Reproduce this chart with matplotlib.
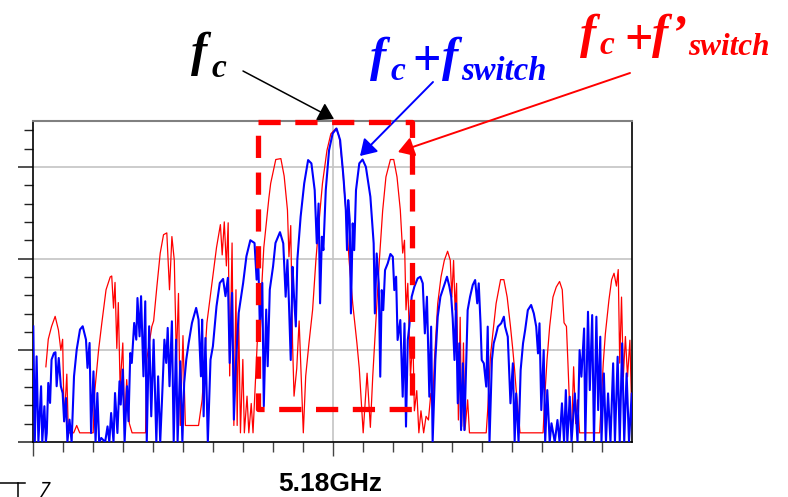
import matplotlib
matplotlib.use("Agg")
import matplotlib.pyplot as plt
from matplotlib.lines import Line2D

plt.rcParams['lines.scale_dashes'] = False

# ---------------- data (x: 0..20 tick units, 5.18GHz at x=10; y: tick units) -------------
red_x = [0.42, 0.50, 0.61, 0.73, 0.84, 0.92, 0.98, 1.03, 1.12, 1.17, 1.35, 1.45, 1.55, 2.00,
         2.05, 2.18, 2.29, 2.43, 2.57, 2.62, 2.68, 2.73, 2.79, 2.84, 2.90, 2.99, 3.05, 3.12,
         3.21, 3.30, 3.75, 3.79, 3.96, 4.02, 4.13, 4.24, 4.35, 4.46, 4.55, 4.63, 4.71, 4.78,
         4.85, 4.91, 5.00, 5.08, 5.52, 5.64, 5.80, 5.97, 6.12, 6.25, 6.31, 6.38, 6.45, 6.51,
         6.56, 6.64, 6.70, 6.77, 6.81, 6.86, 6.92, 7.00, 7.05, 7.14, 7.20, 7.28, 7.34, 7.48,
         7.59, 7.70, 7.87, 7.93, 8.01, 8.10, 8.27, 8.38, 8.49, 8.54, 8.60, 8.66, 8.71, 8.80,
         8.88, 8.94, 9.02, 9.10, 9.21, 9.33, 9.44, 9.55, 9.66, 9.81, 9.94, 10.11, 10.22, 10.33,
         10.44, 10.55, 10.67, 10.81, 10.89, 10.94, 11.02, 11.09, 11.15, 11.19, 11.26, 11.34,
         11.45, 11.56, 11.67, 11.78, 11.93, 12.04, 12.15, 12.26, 12.34, 12.40, 12.45, 12.51,
         12.60, 12.68, 12.73, 12.81, 12.88, 12.95, 13.04, 13.12, 13.20, 13.28, 13.34, 13.40,
         13.51, 13.62, 13.73, 13.84, 13.93, 13.98, 14.04, 14.09, 14.14, 14.20, 14.26, 14.31,
         14.37, 14.42, 14.51, 14.57, 15.13, 15.18, 15.27, 15.35, 15.46, 15.61, 15.72, 15.83,
         15.94, 16.02, 16.08, 16.13, 16.19, 16.26, 17.03, 17.08, 17.16, 17.25, 17.36, 17.47,
         17.58, 17.67, 17.73, 17.81, 17.86, 17.92, 17.98, 18.05, 18.12, 18.18, 18.25, 18.92,
         18.98, 19.04, 19.11, 19.23, 19.32, 19.40, 19.48, 19.54, 19.59, 19.65, 19.71, 19.78,
         19.85, 19.93, 19.99, 20.04]
red_y = [4.1, 5.6, 6.3, 6.85, 6.1, 5.0, 5.6, 1.1, 3.7, 0.5, 0.5, 0.9, 0.5, 0.5,
         2.7, 5.0, 6.5, 8.3, 9.0, 9.05, 7.3, 8.7, 5.1, 7.6, 3.0, 5.4, 1.0, 3.4,
         1.0, 0.5, 0.5, 4.5, 6.3, 6.6, 8.5, 10.3, 11.3, 11.4, 8.3, 11.2, 9.9, 4.5,
         8.1, 0.9, 5.8, 0.9, 0.9, 2.3, 6.5, 8.7, 10.6, 11.85, 10.2, 12.0, 9.6, 11.95,
         3.6, 10.85, 0.9, 8.3, 0.9, 7.0, 0.5, 4.5, 0.5, 2.5, 0.5, 2.1, 0.5, 5.4,
         7.2, 10.6, 13.3, 14.1, 14.7, 15.4, 15.45, 14.5, 12.65, 10.1, 11.8, 5.4, 2.5, 4.0,
         6.6, 4.0, 0.5, 3.6, 5.4, 7.2, 9.9, 12.1, 14.1, 15.9, 16.8, 17.1, 16.65, 15.0,
         12.65, 9.9, 7.55, 5.4, 4.0, 2.65, 0.5, 2.3, 3.75, 2.65, 0.8, 3.6,
         6.8, 9.9, 12.6, 14.45, 15.4, 15.4, 14.45, 12.65, 10.3, 11.0, 7.2, 8.65,
         3.6, 5.7, 1.7, 2.8, 0.5, 1.7, 0.5, 1.4, 1.2, 2.65, 1.9, 4.45,
         7.55, 9.0, 9.9, 10.4, 9.9, 7.9, 9.9, 7.2, 8.65, 1.2, 6.8, 0.85,
         5.4, 0.65, 2.3, 0.5, 0.5, 1.75, 4.65, 5.9, 7.55, 8.85, 8.85, 7.9,
         6.3, 5.0, 3.9, 2.85, 1.75, 0.5, 0.5, 2.3, 4.45, 6.3, 7.9, 8.45,
         8.75, 8.3, 6.5, 6.3, 4.3, 1.75, 0.5, 4.1, 1.0, 2.3, 0.5, 0.5,
         2.45, 4.3, 5.9, 7.75, 8.85, 9.2, 8.5, 9.4, 4.3, 7.9, 3.55, 5.75,
         3.55, 5.55, 1.75, 3.55]

blue_x = [0.00, 0.05, 0.11, 0.17, 0.26, 0.30, 0.37, 0.42, 0.45, 0.50, 0.56, 0.61, 0.69, 0.74,
          0.78, 0.85, 0.92, 0.98, 1.03, 1.09, 1.14, 1.21, 1.28, 1.36, 1.45, 1.56, 1.65, 1.76,
          1.81, 1.88, 1.93, 2.01, 2.08, 2.14, 2.20, 2.27, 2.40, 2.48, 2.54, 2.60, 2.68, 2.73,
          2.81, 2.88, 2.92, 2.99, 3.05, 3.13, 3.18, 3.24, 3.29, 3.37, 3.44, 3.48, 3.55, 3.60,
          3.68, 3.74, 3.79, 3.87, 3.94, 4.02, 4.11, 4.17, 4.24, 4.30, 4.38, 4.44, 4.49, 4.55,
          4.63, 4.69, 4.77, 4.82, 4.91, 4.98, 5.04, 5.11, 5.19, 5.30, 5.44, 5.52, 5.60, 5.64,
          5.69, 5.75, 5.83, 5.92, 6.00, 6.12, 6.23, 6.34, 6.42, 6.50, 6.56, 6.64, 6.70, 6.77,
          6.86, 7.01, 7.12, 7.25, 7.39, 7.46, 7.51, 7.57, 7.65, 7.70, 7.78, 7.83, 7.90, 8.01,
          8.09, 8.24, 8.35, 8.43, 8.49, 8.54, 8.60, 8.66, 8.71, 8.77, 8.82, 8.93, 9.05, 9.18,
          9.29, 9.40, 9.47, 9.53, 9.58, 9.64, 9.69, 9.77, 9.88, 10.00, 10.13, 10.25, 10.36,
          10.44, 10.48, 10.52, 10.57, 10.61, 10.67, 10.72, 10.78, 10.89, 11.00, 11.11, 11.26,
          11.37, 11.41, 11.47, 11.54, 11.59, 11.64, 11.69, 11.75, 11.84, 11.93, 12.01, 12.06,
          12.12, 12.17, 12.26, 12.34, 12.40, 12.45, 12.51, 12.56, 12.64, 12.73, 12.84, 12.93,
          13.01, 13.08, 13.15, 13.23, 13.29, 13.34, 13.43, 13.51, 13.60, 13.71, 13.82, 13.90,
          13.96, 14.01, 14.07, 14.12, 14.18, 14.23, 14.29, 14.35, 14.40, 14.46, 14.51, 14.59,
          14.68, 14.76, 14.83, 14.88, 14.94, 14.98, 15.05, 15.13, 15.18, 15.24, 15.32, 15.38,
          15.44, 15.52, 15.63, 15.72, 15.76, 15.85, 15.94, 16.02, 16.08, 16.13, 16.21, 16.28,
          16.36, 16.43, 16.52, 16.63, 16.72, 16.80, 16.86, 16.91, 16.97, 17.05, 17.10, 17.17,
          17.25, 17.31, 17.42, 17.51, 17.58, 17.66, 17.73, 17.79, 17.84, 17.92, 17.98, 18.09,
          18.18, 18.25, 18.31, 18.40, 18.44, 18.53, 18.59, 18.67, 18.73, 18.81, 18.87, 18.94,
          18.98, 19.06, 19.13, 19.20, 19.28, 19.37, 19.43, 19.52, 19.59, 19.67, 19.74, 19.82,
          19.90, 19.99, 20.04]
blue_y = [6.3, 0.0, 4.67, 0.0, 3.04, 0.0, 1.95, 0.0, 0.49, 3.22, 2.13, 4.49, 4.85, 4.89,
          3.04, 4.58, 3.04, 2.67, 1.13, 2.4, 0.0, 1.22, 0.0, 3.58, 5.04, 6.13, 6.31, 5.58,
          4.04, 5.4, 0.49, 3.85, 0.0, 2.67, 0.0, 0.22, 0.0, 0.85, 0.0, 1.58, 0.0, 2.67,
          0.49, 3.31, 2.04, 3.95, 0.0, 3.04, 1.13, 4.85, 4.31, 6.49, 5.58, 7.85, 5.76, 7.95,
          3.58, 7.67, 0.0, 6.31, 1.4, 5.58, 0.0, 3.58, 0.0, 2.31, 5.58, 4.31, 6.22, 3.04,
          6.58, 0.0, 5.58, 0.0, 4.4, 0.0, 3.22, 4.49, 5.4, 6.49, 7.31, 6.67, 3.58, 6.67,
          1.4, 5.67, 0.0, 4.49, 5.22, 7.4, 8.67, 8.89, 7.95, 8.95, 4.31, 8.13, 1.22, 4.31,
          7.02, 8.67, 10.13, 11.0, 10.85, 8.85, 10.31, 6.13, 8.67, 1.95, 7.22, 4.13, 8.31, 9.58,
          10.85, 11.44, 10.83, 7.92, 9.92, 7.56, 4.47, 9.55, 7.92, 6.3, 9.92, 12.28, 14.1, 15.37,
          15.19, 13.73, 10.83, 13.0, 7.56, 11.19, 10.46, 13.73, 15.91, 16.82, 17.09, 16.46, 14.46,
          12.64, 10.46, 13.19, 12.1, 7.01, 11.92, 10.46, 13.73, 15.19, 15.4, 15.0, 13.37,
          10.83, 7.01, 10.28, 8.65, 3.56, 8.28, 7.19, 9.37, 9.74, 10.25, 10.1, 8.28,
          9.01, 5.56, 6.65, 2.47, 6.47, 0.84, 5.56, 6.29, 7.92, 8.47, 8.92, 9.01,
          8.65, 5.92, 7.92, 2.47, 6.29, 0.0, 4.47, 6.83, 7.92, 8.47, 9.01, 8.47,
          7.92, 6.74, 4.47, 7.56, 2.11, 5.38, 0.65, 4.29, 0.65, 4.29, 7.19, 7.92,
          8.56, 8.83, 7.56, 8.65, 6.47, 4.47, 4.29, 3.02, 6.29, 0.0, 4.47, 5.38,
          5.74, 6.29, 6.47, 6.83, 6.29, 5.74, 2.11, 4.29, 0.0, 2.65, 0.0, 3.92,
          5.38, 6.1, 7.19, 7.47, 7.01, 6.29, 4.83, 6.47, 1.74, 5.01, 0.0, 2.83,
          0.0, 1.02, 0.0, 1.2, 0.0, 2.11, 0.0, 2.83, 0.0, 2.47, 0.0, 2.65,
          0.0, 5.01, 3.56, 6.19, 0.1, 7.1, 2.83, 6.92, 0.0, 6.83, 1.74, 5.74,
          0.0, 3.74, 0.0, 2.65, 0.0, 4.29, 0.0, 4.65, 0.0, 5.38, 0.0, 3.74,
          0.0, 2.65, 0.0]

x_ticks = list(range(20))
x_major = [0, 10]
y_ticks = list(range(18))
y_major = [0, 5, 10, 15]
grid_y = [5, 10, 15]
grid_x = [10]
box_x = [7.49, 12.65]
box_y = [1.8, 17.45]
center_label = "5.18GHz"

# ---------------- figure ----------------
W, H = 788, 497
fig = plt.figure(figsize=(W / 100, H / 100), dpi=100)
L, R, T, B = 33.3, 632.0, 121.0, 442.0
ax = fig.add_axes([L / W, 1 - B / H, (R - L) / W, (B - T) / H])
ax.set_xlim(0, 20)
ax.set_ylim(0, 17.5)

for g in grid_y:
    ax.axhline(g, color='#c4c4c4', lw=1.2, zorder=1)
for g in grid_x:
    ax.axvline(g, color='#c4c4c4', lw=1.2, zorder=1)

ax.plot(red_x, red_y, color='#ff0000', lw=0.9, zorder=2)
ax.plot(blue_x, blue_y, color='#0000ff', lw=1.5, zorder=3)

# dashed red box
ax.plot([box_x[0], box_x[1], box_x[1], box_x[0], box_x[0]],
        [box_y[1], box_y[1], box_y[0], box_y[0], box_y[1]],
        color='#ff0000', lw=3.8, dashes=(16, 10.5), clip_on=False, zorder=4,
        solid_capstyle='butt', dash_capstyle='butt')

# ticks
ax.set_xticks(x_major)
ax.set_xticks([t for t in x_ticks if t not in x_major], minor=True)
ax.set_yticks(y_major)
ax.set_yticks([t for t in y_ticks if t not in y_major], minor=True)
ax.set_xticklabels([])
ax.set_yticklabels([])
ax.tick_params(axis='x', which='major', direction='out', length=10, width=1.0, color='#444444')
ax.tick_params(axis='x', which='minor', direction='out', length=7, width=1.0, color='#444444')
ax.tick_params(axis='y', which='major', direction='out', length=11, width=1.2, color='#333333')
ax.tick_params(axis='y', which='minor', direction='out', length=6.5, width=1.0, color='#222222')
for s in ['left', 'right', 'bottom']:
    ax.spines[s].set_color('black')
    ax.spines[s].set_linewidth(1.2)
ax.spines['top'].set_color('#808080')
ax.spines['top'].set_linewidth(1.5)

# x label
fig.text(330 / W, 1 - 491 / H, center_label, ha='center', va='baseline',
         fontsize=19, fontweight='bold', family='Liberation Sans')


def ftxt(px, py, s, size, color, style='italic'):
    fig.text(px / W, 1 - py / H, s, ha='left', va='baseline', fontsize=size,
             color=color, family='Liberation Serif', fontweight='bold', fontstyle=style)


# annotation texts
ftxt(191, 66, 'f', 35, 'black')
ftxt(212, 77, 'c', 24, 'black')

ftxt(370, 71, 'f', 35, '#0000ff')
ftxt(391, 80, 'c', 24, '#0000ff')
ftxt(412, 75, '+', 36, '#0000ff', 'normal')
ftxt(442, 71, 'f', 35, '#0000ff')
ftxt(461, 80, 'switch', 23.5, '#0000ff')

ftxt(580, 48, 'f', 35, '#ff0000')
ftxt(600, 54, 'c', 24, '#ff0000')
ftxt(624, 54, '+', 36, '#ff0000', 'normal')
ftxt(652, 48, 'f\u2019', 35, '#ff0000')
ftxt(688, 55, 'switch', 22.5, '#ff0000')


def arrow(tail, head, color, lw):
    ax.annotate('', xy=(head[0], H - head[1]), xycoords='figure pixels',
                xytext=(tail[0], H - tail[1]), textcoords='figure pixels',
                arrowprops=dict(arrowstyle='-|>,head_length=0.4,head_width=0.25',
                                mutation_scale=24, color=color, lw=lw,
                                shrinkA=0, shrinkB=0), annotation_clip=False)


arrow((243, 71), (334, 119), 'black', 1.1)
arrow((433, 82), (360, 156), '#0000ff', 1.4)
arrow((630, 73), (398, 152), '#ff0000', 1.4)

# cropped fragment in the bottom-left corner
def fline(xs, ys):
    fig.add_artist(Line2D([x / W for x in xs], [1 - y / H for y in ys],
                          transform=fig.transFigure, color='black', lw=1.1))


fline([0, 25], [482.7, 482.7])
fline([17.7, 17.7], [482.7, 497])
fline([43, 50, 41], [482.7, 482.7, 497])

fig.savefig('out.png', dpi=100)
